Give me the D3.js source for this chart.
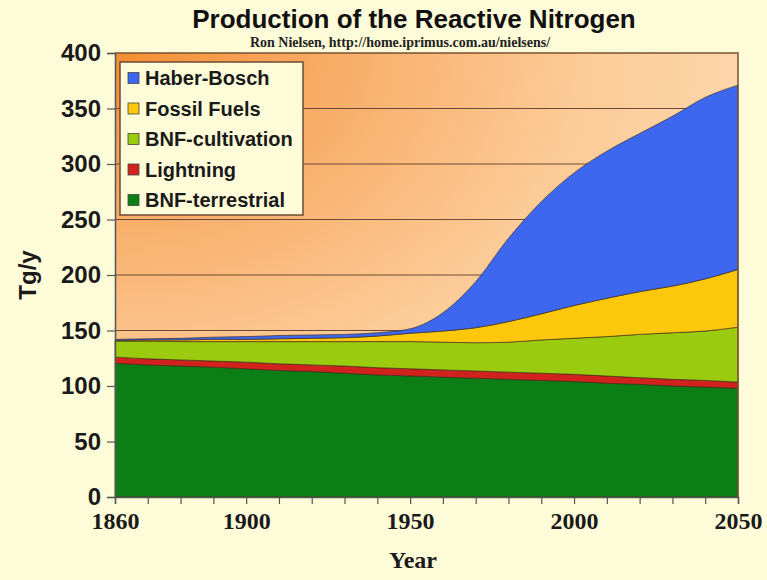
<!DOCTYPE html>
<html>
<head>
<meta charset="utf-8">
<script src="https://cdn.jsdelivr.net/npm/d3@7"></script>
<style>
  html, body { margin: 0; padding: 0; background: #FEFCD8; }
  svg { display: block; }
</style>
</head>
<body>
<svg id="chart" width="767" height="580"></svg>
<script>
// ---- Data ----
const years = [1860,1870,1880,1890,1900,1910,1920,1930,1940,1950,1960,1970,1980,1990,2000,2010,2020,2030,2040,2050];
const bnfTerrestrial = [120.5,119,118,117,115.5,114,113,111.5,110,109,108,107,106,105,104,102.5,101.5,100,99,98];
const lightning      = [5.5,5.5,5.5,5.5,6,6,6,6.5,6.5,6.5,6.5,6.5,6.5,6.5,6.5,6.5,6,6,6,5.5];
const bnfCultivation = [14.5,16,16.5,17.5,18.5,20,21,22,23.5,24.5,25,25.5,27,30,32.5,35.5,39,42,44.5,49.5];
const fossilFuels    = [0.5,1,1.5,2,2,2.5,3,3.5,5,7.5,10,13.5,18.5,23.5,29.5,34.5,38.5,42,47,52];
const haberBosch     = [1,1,1.5,2,2.5,3,3,3,3,4,16.5,41.5,75,101,119.5,132.5,142.5,153,163.5,166];

const seriesNames  = ["BNF-terrestrial","Lightning","BNF-cultivation","Fossil Fuels","Haber-Bosch"];
const seriesColors = ["#0B7F15","#D2221E","#9BCB0E","#FDC80C","#3D67EF"];
const legendOrder  = ["Haber-Bosch","Fossil Fuels","BNF-cultivation","Lightning","BNF-terrestrial"];
const yTicks = [0,50,100,150,200,250,300,350,400];
const xTickLabels = [1860,1900,1950,2000,2050];
const xMinorTicks = [1860,1870,1880,1890,1900,1910,1920,1930,1940,1950,1960,1970,1980,1990,2000,2010,2020,2030,2040,2050];

const title = "Production of the Reactive Nitrogen";
const subtitle = "Ron Nielsen, http://home.iprimus.com.au/nielsens/";

(function () {
// ---- Build table ----
const seriesArrays = [bnfTerrestrial, lightning, bnfCultivation, fossilFuels, haberBosch];
const table = years.map((yr, i) => {
  const row = { year: yr };
  seriesNames.forEach((n, k) => row[n] = seriesArrays[k][i]);
  return row;
});

const svg = d3.select("#chart");
const pL = 115, pR = 738, pT = 53, pB = 497;

const x = d3.scaleLinear().domain([1860, 2050]).range([pL, pR]);
const y = d3.scaleLinear().domain([0, 400]).range([pB, pT]);
const color = d3.scaleOrdinal().domain(seriesNames).range(seriesColors);

// gradient background for plot
const defs = svg.append("defs");
const grad = defs.append("radialGradient")
  .attr("id", "bg").attr("cx", "0").attr("cy", "0").attr("r", "1.15")
  .attr("fx", "0").attr("fy", "0");
grad.append("stop").attr("offset", "0").attr("stop-color", "#F38E33");
grad.append("stop").attr("offset", "0.3").attr("stop-color", "#F8AC66");
grad.append("stop").attr("offset", "0.65").attr("stop-color", "#FCCB97");
grad.append("stop").attr("offset", "1").attr("stop-color", "#FDDCB4");

svg.append("rect")
  .attr("x", pL).attr("y", pT)
  .attr("width", pR - pL).attr("height", pB - pT)
  .attr("fill", "url(#bg)");

// gridlines
svg.append("g").selectAll("line")
  .data(yTicks.filter(d => d > 0 && d < 400))
  .join("line")
  .attr("x1", pL).attr("x2", pR)
  .attr("y1", d => y(d)).attr("y2", d => y(d))
  .attr("stroke", "#6E4A36").attr("stroke-width", 1.2);

// stacked areas
const stack = d3.stack().keys(seriesNames);
const layers = stack(table);
const area = d3.area()
  .x(d => x(d.data.year))
  .y0(d => y(d[0]))
  .y1(d => y(d[1]))
  .curve(d3.curveMonotoneX);

svg.append("g").selectAll("path")
  .data(layers)
  .join("path")
  .attr("d", area)
  .attr("fill", d => color(d.key))
  .attr("stroke", "#3A2A1C")
  .attr("stroke-opacity", 0.65)
  .attr("stroke-width", 1);

// plot border (top, right)
svg.append("path")
  .attr("d", `M${pL},${pT}H${pR}V${pB}`)
  .attr("fill", "none").attr("stroke", "#7A5232").attr("stroke-width", 1.5);

// y axis
const yAxis = d3.axisLeft(y).tickValues(yTicks).tickSize(8).tickPadding(6);
const gy = svg.append("g").attr("transform", `translate(${pL},0)`).call(yAxis);
gy.select(".domain").attr("stroke", "#555").attr("stroke-width", 1.5);
gy.selectAll(".tick line").attr("stroke", "#555").attr("stroke-width", 1.2);
gy.selectAll("text")
  .attr("font-family", "Liberation Sans, Arial, sans-serif")
  .attr("font-weight", "bold").attr("font-size", 24).attr("fill", "#1a1a1a");

// x axis (ticks every decade, labels on selected years)
const xAxis = d3.axisBottom(x).tickValues(xMinorTicks).tickSize(7)
  .tickFormat(d => xTickLabels.includes(d) ? String(d) : "").tickPadding(8);
const gx = svg.append("g").attr("transform", `translate(0,${pB})`).call(xAxis);
gx.select(".domain").attr("stroke", "#555").attr("stroke-width", 1.5);
gx.selectAll(".tick line").attr("stroke", "#555").attr("stroke-width", 1.2);
gx.selectAll("text")
  .attr("font-family", "Liberation Serif, Times New Roman, serif")
  .attr("font-weight", "bold").attr("font-size", 24).attr("fill", "#1a1a1a");

// axis titles
svg.append("text")
  .attr("transform", `translate(36,${(pT + pB) / 2}) rotate(-90)`)
  .attr("text-anchor", "middle")
  .attr("font-family", "Liberation Sans, Arial, sans-serif")
  .attr("font-weight", "bold").attr("font-size", 24).attr("fill", "#1a1a1a")
  .text("Tg/y");

svg.append("text")
  .attr("x", 413).attr("y", 568)
  .attr("text-anchor", "middle")
  .attr("font-family", "Liberation Serif, Times New Roman, serif")
  .attr("font-weight", "bold").attr("font-size", 24).attr("fill", "#1a1a1a")
  .text("Year");

// title + subtitle
svg.append("text")
  .attr("x", 414).attr("y", 28)
  .attr("text-anchor", "middle")
  .attr("font-family", "Liberation Sans, Arial, sans-serif")
  .attr("font-weight", "bold").attr("font-size", 26).attr("fill", "#111")
  .text(title);

svg.append("text")
  .attr("x", 400).attr("y", 47)
  .attr("text-anchor", "middle")
  .attr("font-family", "Liberation Serif, Times New Roman, serif")
  .attr("font-weight", "bold").attr("font-size", 14).attr("fill", "#222")
  .text(subtitle);

// legend
const lg = svg.append("g");
lg.append("rect")
  .attr("x", 120).attr("y", 62).attr("width", 183).attr("height", 153)
  .attr("fill", "#FEFCD8").attr("stroke", "#6E4A36").attr("stroke-width", 1.5);
const items = lg.selectAll("g.item").data(legendOrder).join("g")
  .attr("class", "item")
  .attr("transform", (d, i) => `translate(128,${78 + i * 30.5})`);
items.append("rect")
  .attr("x", 0).attr("y", -5.5).attr("width", 11).attr("height", 11)
  .attr("fill", d => color(d)).attr("stroke", "#444").attr("stroke-width", 0.8);
items.append("text")
  .attr("x", 17).attr("y", 7)
  .attr("font-family", "Liberation Sans, Arial, sans-serif")
  .attr("font-weight", "bold").attr("font-size", 20).attr("fill", "#1a1a1a")
  .text(d => d);
})();
</script>
</body>
</html>
